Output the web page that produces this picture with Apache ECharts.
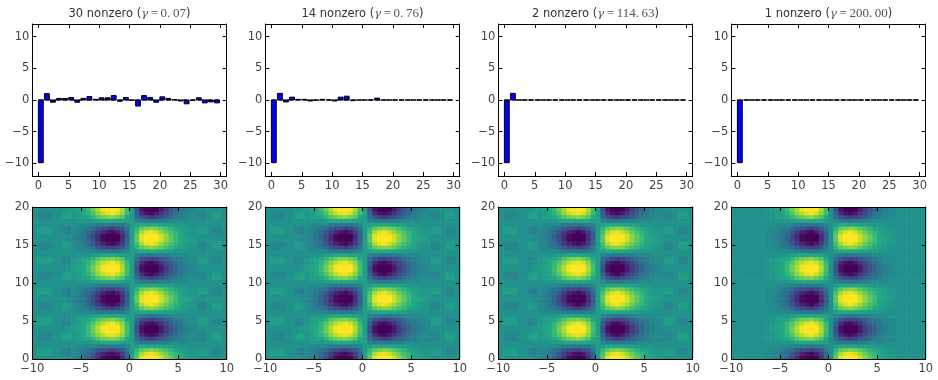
<!DOCTYPE html>
<html><head><meta charset="utf-8">
<script src="https://cdn.jsdelivr.net/npm/echarts@6/dist/echarts.min.js"></script>
<style>html,body{margin:0;padding:0;background:#fff}#c{width:938px;height:380px}</style>
</head><body><div id="c"></div>
<script>
// ---------------- data ----------------
const nonzeroCounts = [30, 14, 2, 1];
const gammaLabels = ['0.07', '0.76', '114.63', '200.00'];
const coefIndex = [0,1,2,3,4,5,6,7,8,9,10,11,12,13,14,15,16,17,18,19,20,21,22,23,24,25,26,27,28,29];
const coef30 = [-9.9,1.0,-0.35,0.25,0.25,0.4,-0.35,0.25,0.55,0.1,0.35,0.35,0.7,-0.2,0.4,-0.05,-0.95,0.7,0.4,-0.35,0.5,0.25,0.05,-0.15,-0.6,-0.05,0.35,-0.45,-0.3,-0.45];
const coef14 = [-9.9,1.05,-0.3,0.45,0.1,0.1,-0.15,-0.03,0.1,0,-0.15,0.45,0.6,-0.1,0,0,0,0.3,0,0,0,0,0,0,0,0,0,0,0,0];
const coef2  = [-9.9,1.05,0,0,0,0,0,0,0,0,0,0,0,0,0,0,0,0,0,0,0,0,0,0,0,0,0,0,0,0];
const coef1  = [-9.9,0,0,0,0,0,0,0,0,0,0,0,0,0,0,0,0,0,0,0,0,0,0,0,0,0,0,0,0,0];
const zeroLineX = [0, 30];
const barXTicks = [0,5,10,15,20,25,30];
const barYTicks = [-10,-5,0,5,10];
const heatXTicks = [-10,-5,0,5,10];
const heatYTicks = [0,5,10,15,20];
const heatX = [-9.75,-9.25,-8.75,-8.25,-7.75,-7.25,-6.75,-6.25,-5.75,-5.25,-4.75,-4.25,-3.75,-3.25,-2.75,-2.25,-1.75,-1.25,-0.75,-0.25,0.25,0.75,1.25,1.75,2.25,2.75,3.25,3.75,4.25,4.75,5.25,5.75,6.25,6.75,7.25,7.75,8.25,8.75,9.25,9.75];
const heatY = [0.25,0.75,1.25,1.75,2.25,2.75,3.25,3.75,4.25,4.75,5.25,5.75,6.25,6.75,7.25,7.75,8.25,8.75,9.25,9.75,10.25,10.75,11.25,11.75,12.25,12.75,13.25,13.75,14.25,14.75,15.25,15.75,16.25,16.75,17.25,17.75,18.25,18.75,19.25,19.75];
// image rows (values in twentieths, one entry per heatX column)
// smooth rows (rightmost panel)
const sT1 = [0,0,0,0,0,0,0,-1,-2,-3,-4,-7,-11,-15,-19,-20,-20,-20,-15,-8,0,10,18,20,20,20,17,13,10,7,4,3,2,1,0,0,0,0,0,0];
const sT2 = [0,0,0,0,0,0,0,-1,-1,-2,-4,-6,-9,-13,-16,-18,-19,-17,-13,-7,0,8,15,18,19,17,14,11,8,6,4,2,1,1,0,0,0,0,0,0];
const sT3 = [0,0,0,0,0,0,0,-1,-1,-2,-3,-4,-6,-9,-11,-12,-13,-11,-9,-4,0,6,10,12,13,12,10,8,6,4,3,2,1,1,0,0,0,0,0,0];
const sT4 = [0,0,0,0,0,0,0,0,0,-1,-1,-1,-2,-3,-4,-4,-4,-4,-3,-2,0,2,4,4,4,4,3,3,2,1,1,1,0,0,0,0,0,0,0,0];
const sU4 = [0,0,0,0,0,0,0,0,0,1,1,1,2,3,4,4,4,4,3,2,0,-2,-4,-4,-4,-4,-3,-3,-2,-1,-1,-1,0,0,0,0,0,0,0,0];
const sU3 = [0,0,0,0,0,0,0,1,1,2,3,4,6,9,11,12,13,11,9,4,0,-6,-10,-12,-13,-12,-10,-8,-6,-4,-3,-2,-1,-1,0,0,0,0,0,0];
const sU2 = [0,0,0,0,0,0,0,1,1,2,4,6,9,13,16,18,19,17,13,7,0,-8,-15,-18,-19,-17,-14,-11,-8,-6,-4,-2,-1,-1,0,0,0,0,0,0];
const sU1 = [0,0,0,0,0,0,0,1,2,3,4,7,11,15,19,20,20,20,15,8,0,-10,-18,-20,-20,-20,-17,-13,-10,-7,-4,-3,-2,-1,0,0,0,0,0,0];
// rippled rows (first three panels)
const nT1 = [0,0,0,0,0,0,0,-1,-2,-3,-4,-7,-11,-15,-19,-20,-20,-20,-15,-8,2,10,18,20,20,20,17,13,10,7,4,3,2,1,0,0,0,0,0,0];
const nT2a = [0,2,2,2,0,0,-2,-3,-1,-2,-4,-6,-9,-13,-16,-18,-19,-17,-13,-7,2,8,15,18,19,17,14,11,8,6,4,2,1,1,2,2,0,-2,-2,0];
const nT2b = [0,-2,-2,-2,0,0,2,1,-1,-2,-4,-6,-9,-13,-16,-18,-19,-17,-13,-7,2,8,15,18,19,17,14,11,8,6,4,2,1,1,-2,-2,0,2,2,0];
const nT3a = [0,2,2,2,0,0,-2,-3,-1,-2,-3,-4,-6,-9,-11,-12,-13,-11,-9,-4,2,6,10,12,13,12,10,8,6,4,3,2,1,1,2,2,0,-2,-2,0];
const nT3b = [0,-2,-2,-2,0,0,2,1,-1,-2,-3,-4,-6,-9,-11,-12,-13,-11,-9,-4,2,6,10,12,13,12,10,8,6,4,3,2,1,1,-2,-2,0,2,2,0];
const nT4 = [0,0,0,0,0,0,0,0,0,-1,-1,-1,-2,-3,-4,-4,-4,-4,-3,-2,2,2,4,4,4,4,3,3,2,1,1,1,0,0,0,0,0,0,0,0];
const nU4 = [0,0,0,0,0,0,0,0,0,1,1,1,2,3,4,4,4,4,3,2,2,-2,-4,-4,-4,-4,-3,-3,-2,-1,-1,-1,0,0,0,0,0,0,0,0];
const nU3a = [0,2,2,2,0,0,-2,-1,1,2,3,4,6,9,11,12,13,11,9,4,2,-6,-10,-12,-13,-12,-10,-8,-6,-4,-3,-2,-1,-1,2,2,0,-2,-2,0];
const nU3b = [0,-2,-2,-2,0,0,2,3,1,2,3,4,6,9,11,12,13,11,9,4,2,-6,-10,-12,-13,-12,-10,-8,-6,-4,-3,-2,-1,-1,-2,-2,0,2,2,0];
const nU2a = [0,2,2,2,0,0,-2,-1,1,2,4,6,9,13,16,18,19,17,13,7,2,-8,-15,-18,-19,-17,-14,-11,-8,-6,-4,-2,-1,-1,2,2,0,-2,-2,0];
const nU2b = [0,-2,-2,-2,0,0,2,3,1,2,4,6,9,13,16,18,19,17,13,7,2,-8,-15,-18,-19,-17,-14,-11,-8,-6,-4,-2,-1,-1,-2,-2,0,2,2,0];
const nU1 = [0,0,0,0,0,0,0,1,2,3,4,7,11,15,19,20,20,20,15,8,2,-10,-18,-20,-20,-20,-17,-13,-10,-7,-4,-3,-2,-1,0,0,0,0,0,0];
// grids: rows from bottom (y=0.25) to top (y=19.75)
const heatNoisy = [
  nT1, nT2a, nT3a, nT4, nU4, nU3b, nU2b, nU1,
  nU1, nU2a, nU3a, nU4, nT4, nT3b, nT2b, nT1,
  nT1, nT2a, nT3a, nT4, nU4, nU3b, nU2b, nU1,
  nU1, nU2a, nU3a, nU4, nT4, nT3b, nT2b, nT1,
  nT1, nT2a, nT3a, nT4, nU4, nU3b, nU2b, nU1
];
const heatSmooth = [
  sT1, sT2, sT3, sT4, sU4, sU3, sU2, sU1,
  sU1, sU2, sU3, sU4, sT4, sT3, sT2, sT1,
  sT1, sT2, sT3, sT4, sU4, sU3, sU2, sU1,
  sU1, sU2, sU3, sU4, sT4, sT3, sT2, sT1,
  sT1, sT2, sT3, sT4, sU4, sU3, sU2, sU1
];
const panelCoefs = [coef30, coef14, coef2, coef1];
const panelHeats = [heatNoisy, heatNoisy, heatNoisy, heatSmooth];

// ---------------- layout / style ----------------
const panelLeft = [32.3, 265.3, 498.3, 731.3];
const panelWidth = 194.4;
const topRow = {top: 24, height: 152};
const botRow = {top: 207, height: 152};
const viridis = ['#440154','#482475','#414487','#355f8d','#2a788e','#21918c','#22a884','#44bf70','#7ad151','#bddf26','#fde725'];
const labelColor = '#444';
const fmt = v => String(v).replace('-', '\u2212');

const grids = [], xAxes = [], yAxes = [], series = [];
function axis(g, min, max, ticks, pos, labels) {
  return {
    type: 'value', gridIndex: g, min: min, max: max, position: pos, z: 10,
    axisLine: {show: true, onZero: false, lineStyle: {color: '#000', width: 1}},
    axisTick: {show: true, inside: true, length: 4, customValues: ticks, lineStyle: {color: '#000', width: 1}},
    axisLabel: {show: labels, customValues: ticks, color: labelColor, fontSize: 11.5, fontFamily: 'DejaVu Sans', margin: 4, formatter: fmt},
    splitLine: {show: false}
  };
}
for (let r = 0; r < 2; r++) {
  const row = r === 0 ? topRow : botRow;
  for (let p = 0; p < 4; p++) {
    grids.push({left: panelLeft[p], width: panelWidth, top: row.top, height: row.height, containLabel: false, outerBoundsMode: 'none'});
  }
}
for (let g = 0; g < 8; g++) {
  const isBar = g < 4;
  const xr = isBar ? [-1, 31, barXTicks] : [-10, 10, heatXTicks];
  const yr = isBar ? [-12, 12, barYTicks] : [0, 20, heatYTicks];
  xAxes.push(axis(g, xr[0], xr[1], xr[2], 'bottom', true));
  xAxes.push(axis(g, xr[0], xr[1], xr[2], 'top', false));
  const yl = axis(g, yr[0], yr[1], yr[2], 'left', true); yl.axisLabel.margin = 3;
  yAxes.push(yl);
  yAxes.push(axis(g, yr[0], yr[1], yr[2], 'right', false));
}
const barW = 0.8;
for (let p = 0; p < 4; p++) {
  series.push({
    type: 'custom', xAxisIndex: 2 * p, yAxisIndex: 2 * p, z: 2,
    data: coefIndex.map((i, k) => [i, panelCoefs[p][k]]),
    renderItem: (params, api) => {
      const i = api.value(0), v = api.value(1);
      const a = api.coord([i, 0]), b = api.coord([i + barW, v]);
      return {type: 'rect', shape: {x: a[0], y: Math.min(a[1], b[1]), width: b[0] - a[0], height: Math.abs(b[1] - a[1])},
        style: {fill: '#0000ff', stroke: '#000', lineWidth: 1}};
    }
  });
  series.push({
    type: 'line', xAxisIndex: 2 * p, yAxisIndex: 2 * p, z: 3, symbol: 'none', silent: true,
    data: zeroLineX.map(x => [x, 0]),
    lineStyle: {color: '#000', width: 1, type: [5, 3]}
  });
}
const halfX = (heatX[1] - heatX[0]) / 2, halfY = (heatY[1] - heatY[0]) / 2;
const heatSeriesIdx = [];
for (let p = 0; p < 4; p++) {
  const g = 4 + p;
  const data = [];
  panelHeats[p].forEach((row, r) => row.forEach((v, c) => data.push([heatX[c], heatY[r], v])));
  heatSeriesIdx.push(series.length);
  series.push({
    type: 'custom', xAxisIndex: 2 * g, yAxisIndex: 2 * g, z: 2, clip: true, silent: true,
    data: data,
    renderItem: (params, api) => {
      const x = api.value(0), y = api.value(1);
      const a = api.coord([x - halfX, y + halfY]), b = api.coord([x + halfX, y - halfY]);
      return {type: 'rect', shape: {x: a[0], y: a[1], width: b[0] - a[0] + 0.6, height: b[1] - a[1] + 0.6},
        style: {fill: api.visual('color')}};
    }
  });
}
const graphics = [];
for (let p = 0; p < 4; p++) {
  const parts = gammaLabels[p].split('.');
  graphics.push({
    type: 'text', x: panelLeft[p] + panelWidth / 2, y: 14, z: 20,
    style: {
      text: '{s|' + nonzeroCounts[p] + ' nonzero (}{g|\u03b3}{m|\u2009=\u2009' + parts[0] + '.\u2009' + parts[1] + '}{s|)}',
      align: 'center', verticalAlign: 'middle',
      rich: {
        s: {fontFamily: 'DejaVu Sans', fontSize: 11.5, fill: '#333'},
        g: {fontFamily: 'DejaVu Serif', fontStyle: 'italic', fontSize: 11.5, fill: '#555'},
        m: {fontFamily: 'Liberation Serif', fontSize: 13, fill: '#555'}
      }
    }
  });
}

const chart = echarts.init(document.getElementById('c'), null, {renderer: 'canvas'});
chart.setOption({
  animation: false,
  backgroundColor: '#fff',
  grid: grids, xAxis: xAxes, yAxis: yAxes, series: series,
  visualMap: [{type: 'continuous', show: false, min: -20, max: 20, dimension: 2, seriesIndex: heatSeriesIdx, inRange: {color: viridis}}],
  graphic: graphics
});
</script></body></html>
